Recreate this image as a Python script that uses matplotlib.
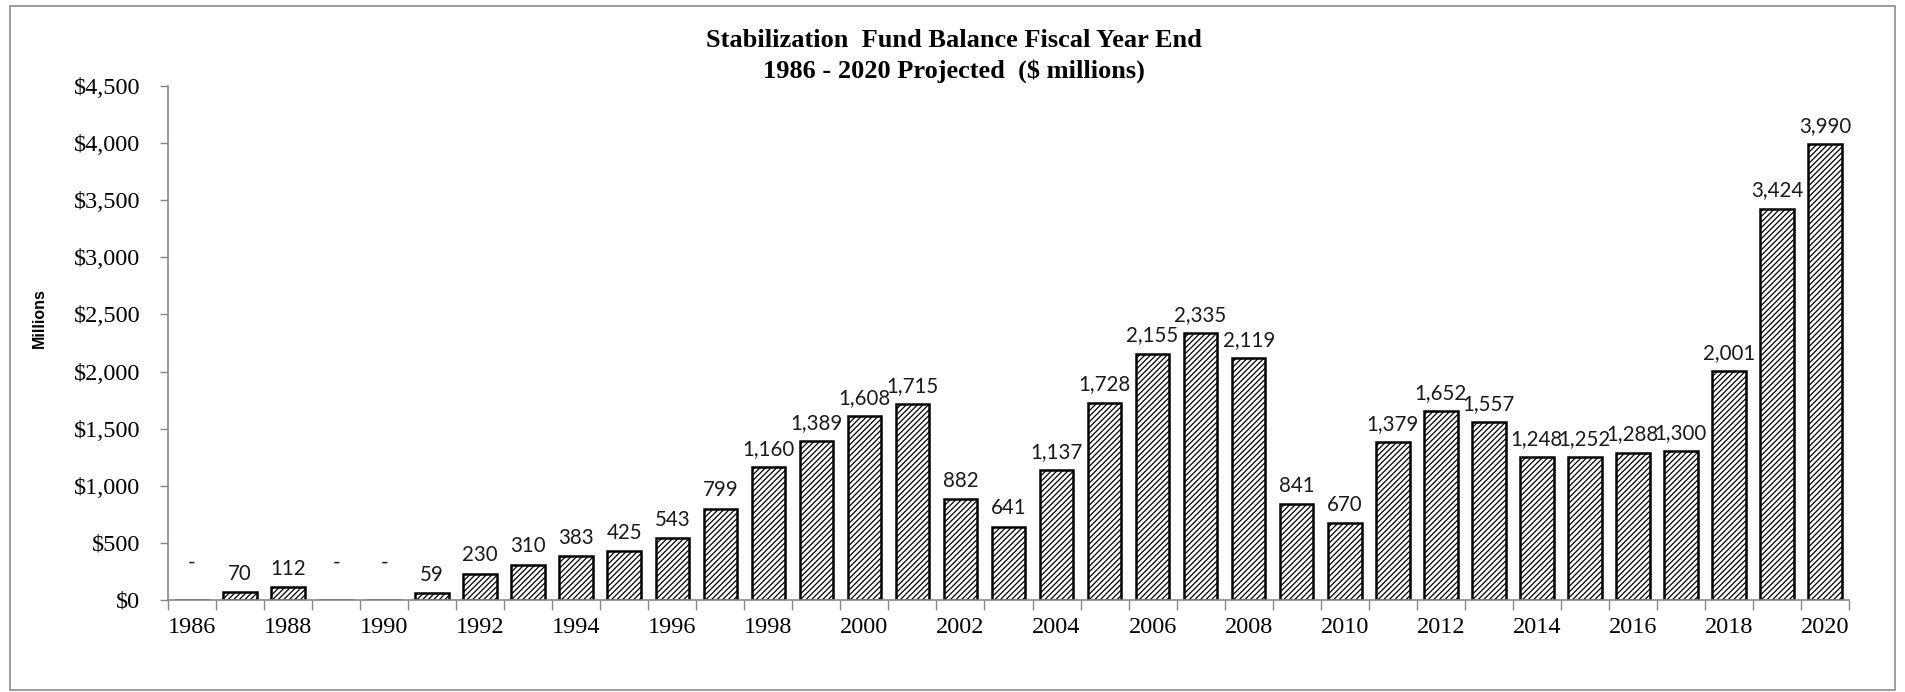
import matplotlib.pyplot as plt
import matplotlib.patches as patches
from matplotlib.ticker import FuncFormatter, MultipleLocator

# Stabilization fund balance at fiscal year end ($ millions)
years = list(range(1986, 2021))
balance = [0, 70, 112, 0, 0, 59, 230, 310, 383, 425, 543, 799, 1160, 1389,
           1608, 1715, 882, 641, 1137, 1728, 2155, 2335, 2119, 841, 670,
           1379, 1652, 1557, 1248, 1252, 1288, 1300, 2001, 3424, 3990]
year_labels = [str(y) if y % 2 == 0 else '' for y in years]

plt.rcParams['hatch.linewidth'] = 0.9
plt.rcParams['hatch.color'] = 'black'

fig = plt.figure(figsize=(19.05, 6.92), dpi=100)
ax = fig.add_axes([0.0882, 0.133, 0.8824, 0.7427])

# outer chart border
fig.patches.append(patches.Rectangle((0.005, 0.003), 0.99, 0.988, transform=fig.transFigure,
                                     fill=False, edgecolor='#8c8c8c', linewidth=1.2))

x = list(range(len(years)))
bars = ax.bar(x, balance, width=0.7, facecolor='white', edgecolor='black',
              linewidth=1.8, hatch='//////')

# value labels above each bar
for xi, v in zip(x, balance):
    txt = '-' if v == 0 else f'{v:,}'
    off = 20 if v == 0 else 6
    ax.annotate(txt, (xi, v), xytext=(0, off), textcoords='offset points',
                ha='center', va='bottom', fontsize=14.8, family='Lato', color='#1a1a1a')

ax.set_xlim(-0.5, len(years) - 0.5)
ax.set_ylim(0, 4500)
ax.yaxis.set_major_locator(MultipleLocator(500))
ax.yaxis.set_major_formatter(FuncFormatter(lambda v, p: f'${v:,.0f}'))

# year labels at bar centres, tick marks between categories
ax.set_xticks(x)
ax.set_xticklabels(year_labels)
ax.set_xticks([i - 0.5 for i in range(len(years) + 1)], minor=True)
ax.tick_params(axis='x', which='major', length=0, pad=12)
ax.tick_params(axis='x', which='minor', length=7, width=1, color='#868686', direction='out')
ax.tick_params(axis='y', length=6, width=1, color='#868686', pad=14)
for lab in ax.get_xticklabels() + ax.get_yticklabels():
    lab.set_family('Liberation Serif')
    lab.set_fontsize(17.5)

for s in ['top', 'right']:
    ax.spines[s].set_visible(False)
for s in ['left', 'bottom']:
    ax.spines[s].set_color('#868686')
    ax.spines[s].set_linewidth(1.2)

fig.text(0.0205, 0.54, 'Millions', rotation=90, ha='center', va='center',
         fontsize=11.5, fontweight='bold', family='Liberation Sans')

fig.text(0.501, 0.942, 'Stabilization  Fund Balance Fiscal Year End', ha='center', va='center',
         fontsize=19, fontweight='bold', family='Liberation Serif')
fig.text(0.501, 0.897, '1986 - 2020 Projected  ($ millions)', ha='center', va='center',
         fontsize=19, fontweight='bold', family='Liberation Serif')

fig.savefig('out.png', dpi=100)
